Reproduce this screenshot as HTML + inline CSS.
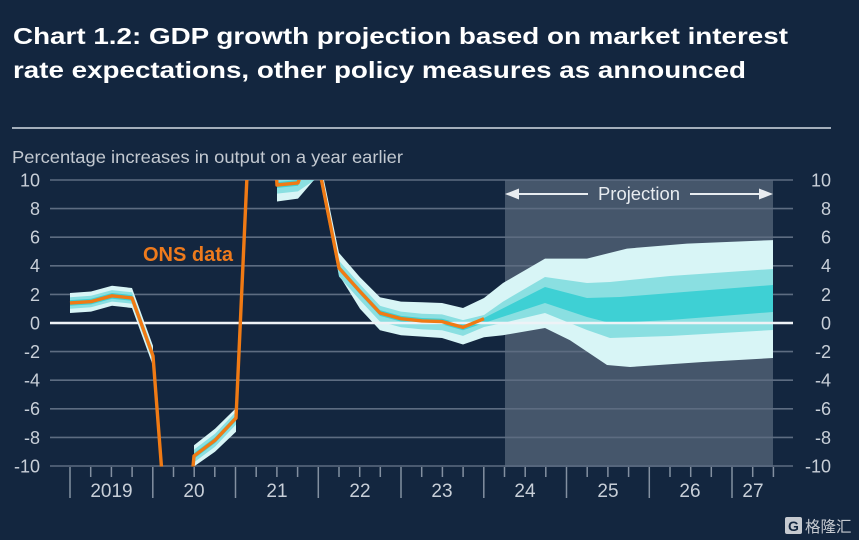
<!DOCTYPE html>
<html><head><meta charset="utf-8"><style>
html,body{margin:0;padding:0;background:#13263f;overflow:hidden;width:859px;height:540px;}
svg{display:block;}
</style></head><body>
<svg width="859" height="540" viewBox="0 0 859 540" xmlns="http://www.w3.org/2000/svg" font-family="'Liberation Sans', Arial, sans-serif">
<defs><clipPath id="pc"><rect x="50" y="180" width="743" height="286.5"/></clipPath></defs>
<rect width="859" height="540" fill="#13263f"/>
<text x="13" y="44" font-size="23.5" font-weight="bold" fill="#ffffff" textLength="775" lengthAdjust="spacingAndGlyphs">Chart 1.2: GDP growth projection based on market interest</text>
<text x="13" y="78" font-size="23.5" font-weight="bold" fill="#ffffff" textLength="733" lengthAdjust="spacingAndGlyphs">rate expectations, other policy measures as announced</text>
<line x1="12" y1="128" x2="831" y2="128" stroke="#a3aebb" stroke-width="2"/>
<text x="12" y="163" font-size="17.5" fill="#c3c9d1" textLength="391" lengthAdjust="spacingAndGlyphs">Percentage increases in output on a year earlier</text>
<!-- projection shade -->
<rect x="505" y="180" width="268" height="287" fill="#45566b"/>
<!-- gridlines -->
<g stroke="#5d6c81" stroke-width="1.6">
<line x1="50" y1="180" x2="793" y2="180"/>
<line x1="50" y1="208.6" x2="793" y2="208.6"/>
<line x1="50" y1="237.2" x2="793" y2="237.2"/>
<line x1="50" y1="265.8" x2="793" y2="265.8"/>
<line x1="50" y1="294.4" x2="793" y2="294.4"/>
<line x1="50" y1="351.6" x2="793" y2="351.6"/>
<line x1="50" y1="380.2" x2="793" y2="380.2"/>
<line x1="50" y1="408.8" x2="793" y2="408.8"/>
<line x1="50" y1="437.4" x2="793" y2="437.4"/>
<line x1="50" y1="466" x2="793" y2="466"/>
</g>
<g clip-path="url(#pc)">
<!-- Seg A -->
<polygon fill="#d8f5f6" points="70,293 91,291.5 112,285.8 132,288 153,345.9 153,365.9 132,308 112,305.8 91,311.6 70,313"/>
<polygon fill="#8adfe1" points="70,297.3 91,295.8 112,290.1 132,292.3 153,350.2 153,361.6 132,303.7 112,301.6 91,307.3 70,308.7"/>
<polygon fill="#3ed0d4" points="70,300.1 91,298.7 112,293 132,295.1 153,353 153,358.8 132,300.8 112,298.7 91,304.4 70,305.8"/>
<!-- Seg B -->
<polygon fill="#d8f5f6" points="194,445.3 215,428.8 236,408.1 236,431.7 215,451.7 194,466.5"/>
<polygon fill="#8adfe1" points="194,449.6 215,433.8 236,411.7 236,424.5 215,446.7 194,462.4"/>
<polygon fill="#3ed0d4" points="194,453.1 215,437.4 236,415.2 236,421 215,443.1 194,458.9"/>
<!-- Seg C/D + projection -->
<polygon fill="#d8f5f6" points="277,180 298,180 318,180 324,180 339,252.9 360,277.2 380,297.3 401,301.6 422,302.3 442,303 463,308 484,298 503,283 545,258.6 587,258.6 627,248.6 687,243.6 773,240.1 773,358 703,362 630,367 607,365 570,340.2 545,328 503,335.2 484,337.3 463,344.5 442,338 422,336.6 401,335.2 380,330.2 360,308.7 339,275 320,180 314,180 298,198.6 277,201.5"/>
<polygon fill="#8adfe1" points="277,180 298,180 323,180 339,260.8 360,284.4 380,305.8 401,311.6 422,313.7 442,314.4 463,320.1 484,315 503,301.6 545,277 587,283 610,282 670,276 773,269 773,330 670,336 610,338 587,330 545,313 503,323 484,327 463,335.9 442,330.2 422,329.4 401,327.3 380,321.6 360,300.1 339,276.5 321,180 314.5,180 298,191.4 277,193.6"/>
<polygon fill="#3ed0d4" points="277,182.1 298,180 322,180 339,265.1 360,288.7 380,310.1 401,315.9 422,318 442,318.7 463,324.4 484,318 545,287 587,298 620,297 773,285 773,312 670,320 610,323 587,317 545,303 484,323 463,330.2 442,324.4 422,323.7 401,321.6 380,315.9 360,294.4 339,270.8 321.5,180 300,180 298,185.7 277,187.9"/>
</g>
<!-- zero line -->
<line x1="50" y1="323" x2="793" y2="323" stroke="#eef2f6" stroke-width="2.5"/>
<!-- ONS line -->
<g clip-path="url(#pc)" fill="none" stroke="#f07a14" stroke-width="3.4" stroke-linejoin="round">
<polyline points="70,303 91,301.6 112,295.8 132,298 153,355.9 161.7,470"/>
<polyline points="192.7,470 194,456 215,440.3 236,418.1 247,176"/>
<polyline points="276.5,176 277,185 298,182.9 300.5,176"/>
<polyline points="320.7,176 339,268 360,291.5 380,313 401,318.7 422,320.9 442,321.6 463,327.3 484,318.7"/>
</g>
<text x="143" y="261" font-size="20" font-weight="bold" fill="#ee7a1c">ONS data</text>
<!-- projection arrow -->
<g fill="#e8ecf0" stroke="none">
<rect x="514" y="193" width="74" height="2"/>
<rect x="690" y="193" width="74" height="2"/>
<polygon points="505,194 519,188.5 519,199.5"/>
<polygon points="773,194 759,188.5 759,199.5"/>
<text x="598" y="200" font-size="18" textLength="82" lengthAdjust="spacingAndGlyphs">Projection</text>
</g>
<!-- y labels -->
<g font-size="18" fill="#c8cfd8" text-anchor="end">
<text x="40" y="186.5">10</text><text x="40" y="215">8</text><text x="40" y="243.6">6</text><text x="40" y="272.2">4</text><text x="40" y="300.8">2</text><text x="40" y="329.5">0</text><text x="40" y="358">-2</text><text x="40" y="386.6">-4</text><text x="40" y="415.2">-6</text><text x="40" y="443.8">-8</text><text x="40" y="472.5">-10</text>
<text x="831" y="186.5">10</text><text x="831" y="215">8</text><text x="831" y="243.6">6</text><text x="831" y="272.2">4</text><text x="831" y="300.8">2</text><text x="831" y="329.5">0</text><text x="831" y="358">-2</text><text x="831" y="386.6">-4</text><text x="831" y="415.2">-6</text><text x="831" y="443.8">-8</text><text x="831" y="472.5">-10</text>
</g>
<!-- ticks -->
<g stroke="#8390a1" stroke-width="1.5">
<line x1="70" y1="467" x2="70" y2="498"/><line x1="152.8" y1="467" x2="152.8" y2="498"/><line x1="235.5" y1="467" x2="235.5" y2="498"/><line x1="318.3" y1="467" x2="318.3" y2="498"/><line x1="401" y1="467" x2="401" y2="498"/><line x1="483.8" y1="467" x2="483.8" y2="498"/><line x1="566.5" y1="467" x2="566.5" y2="498"/><line x1="649.3" y1="467" x2="649.3" y2="498"/><line x1="732" y1="467" x2="732" y2="498"/>
<line x1="90.7" y1="467" x2="90.7" y2="477"/><line x1="111.4" y1="467" x2="111.4" y2="477"/><line x1="132.1" y1="467" x2="132.1" y2="477"/>
<line x1="173.5" y1="467" x2="173.5" y2="477"/><line x1="194.2" y1="467" x2="194.2" y2="477"/><line x1="214.8" y1="467" x2="214.8" y2="477"/>
<line x1="256.2" y1="467" x2="256.2" y2="477"/><line x1="276.9" y1="467" x2="276.9" y2="477"/><line x1="297.6" y1="467" x2="297.6" y2="477"/>
<line x1="339" y1="467" x2="339" y2="477"/><line x1="359.7" y1="467" x2="359.7" y2="477"/><line x1="380.3" y1="467" x2="380.3" y2="477"/>
<line x1="421.7" y1="467" x2="421.7" y2="477"/><line x1="442.4" y1="467" x2="442.4" y2="477"/><line x1="463.1" y1="467" x2="463.1" y2="477"/>
<line x1="504.5" y1="467" x2="504.5" y2="477"/><line x1="525.2" y1="467" x2="525.2" y2="477"/><line x1="545.8" y1="467" x2="545.8" y2="477"/>
<line x1="587.2" y1="467" x2="587.2" y2="477"/><line x1="607.9" y1="467" x2="607.9" y2="477"/><line x1="628.6" y1="467" x2="628.6" y2="477"/>
<line x1="670" y1="467" x2="670" y2="477"/><line x1="690.7" y1="467" x2="690.7" y2="477"/><line x1="711.3" y1="467" x2="711.3" y2="477"/>
<line x1="752.7" y1="467" x2="752.7" y2="477"/><line x1="773.4" y1="467" x2="773.4" y2="477"/>
</g>
<g font-size="19" fill="#c8cfd8" text-anchor="middle">
<text x="111.5" y="497">2019</text><text x="194" y="497">20</text><text x="277" y="497">21</text><text x="360" y="497">22</text><text x="442" y="497">23</text><text x="525" y="497">24</text><text x="608" y="497">25</text><text x="690" y="497">26</text><text x="753" y="497">27</text>
</g>
<!-- watermark -->
<rect x="785" y="517" width="17" height="17" rx="2" fill="#c6cad0"/>
<text x="793.5" y="531" font-size="14" font-weight="bold" fill="#13263f" text-anchor="middle">G</text>
<text x="805" y="532" font-size="15.5" fill="#c6cad0" font-family="'Liberation Sans','Noto Sans CJK SC',sans-serif">格隆汇</text>
</svg>
</body></html>
